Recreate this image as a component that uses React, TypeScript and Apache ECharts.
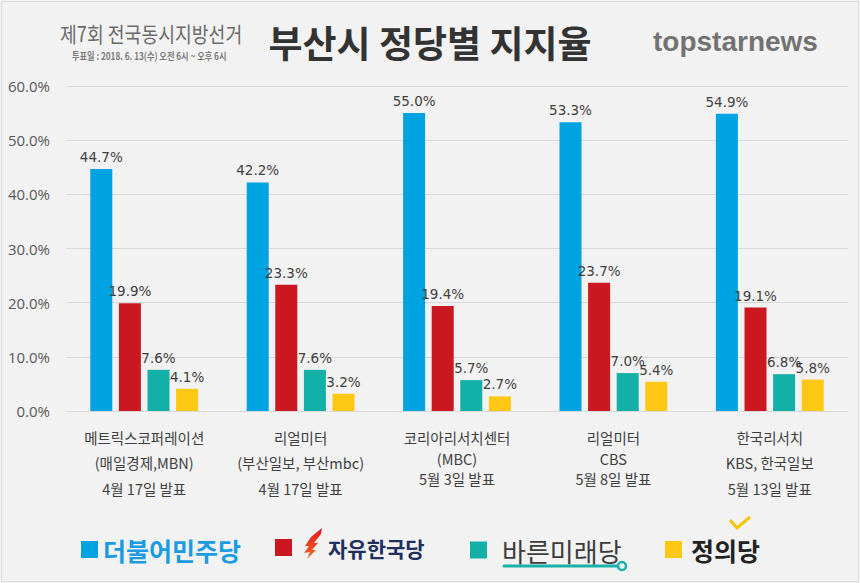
import React, { useEffect, useRef } from "react";
import * as echarts from "echarts";

const categoryLines: string[][] = [
  ["메트릭스코퍼레이션", "(매일경제,MBN)", "4월 17일 발표"],
  ["리얼미터", "(부산일보, 부산mbc)", "4월 17일 발표"],
  ["코리아리서치센터", "(MBC)", "5월 3일 발표"],
  ["리얼미터", "CBS", "5월 8일 발표"],
  ["한국리서치", "KBS, 한국일보", "5월 13일 발표"],
];
const categories = categoryLines.map((l) => l.join("\n"));

const partyNames = ["더불어민주당", "자유한국당", "바른미래당", "정의당"];
const democratic = [44.7, 42.2, 55.0, 53.3, 54.9];
const libertyKorea = [19.9, 23.3, 19.4, 23.7, 19.1];
const bareunmirae = [7.6, 7.6, 5.7, 7.0, 6.8];
const justice = [4.1, 3.2, 2.7, 5.4, 5.8];
const yTicks = [0, 10, 20, 30, 40, 50, 60];

const barColors = ["#00a3e2", "#cb1820", "#13b0a8", "#ffc814"];
const KR = "'Noto Sans CJK KR', 'Noto Sans', sans-serif";

export default function App() {
  const ref = useRef<HTMLDivElement>(null);
  useEffect(() => {
    if (!ref.current) return;
    const chart = echarts.init(ref.current, undefined, { renderer: "svg" });
    const seriesData = [democratic, libertyKorea, bareunmirae, justice];
    const labelCommon = {
      show: true,
      position: "top",
      distance: 5,
      fontSize: 13.5,
      color: "#404040",
      fontFamily: "'DejaVu Sans', sans-serif",
      formatter: (p: any) => `${Number(p.value).toFixed(1)}%`,
    };
    const legendBase = {
      top: 537,
      padding: 0,
      icon: "rect",
      itemWidth: 17,
      itemHeight: 17,
      selectedMode: false,
    };
    const option: any = {
      animation: false,
      backgroundColor: "#f2f2f2",
      grid: { left: 66, right: 12, top: 86, bottom: 172, containLabel: false },
      xAxis: {
        type: "category",
        data: categories,
        axisLine: { show: false },
        axisTick: { show: false },
        axisLabel: {
          margin: 13.25,
          interval: 0,
          formatter: (value: string, index: number) => {
            const l = value.split("\n");
            if (index === 2 || index === 3) {
              return `{a|${l[0]}}\n{b|${l[1]}}\n{c|${l[2]}}`;
            }
            return `{a|${l[0]}}\n{a|${l[1]}}\n{a|${l[2]}}`;
          },
          rich: {
            a: { fontSize: 14.5, lineHeight: 25.5, color: "#404040", fontFamily: KR },
            b: { fontSize: 14.5, lineHeight: 17, color: "#404040", fontFamily: KR },
            c: { fontSize: 14.5, lineHeight: 23, color: "#404040", fontFamily: KR },
          },
        },
      },
      yAxis: {
        type: "value",
        min: yTicks[0],
        max: yTicks[yTicks.length - 1],
        interval: 10,
        axisLine: { show: false },
        axisTick: { show: false },
        splitLine: { lineStyle: { color: "#d9d9d9", width: 1 } },
        axisLabel: {
          margin: 16,
          fontSize: 15,
          color: "#595959",
          fontFamily: "'Open Sans', sans-serif",
          formatter: (v: number) => `${v.toFixed(1)}%`,
        },
      },
      legend: [
        {
          ...legendBase,
          left: 81,
          data: [partyNames[0]],
          formatter: (n: string) => `{t|${n}}`,
          textStyle: {
            rich: {
              t: { fontSize: 25, fontWeight: "bold", color: "#1b9be0", fontFamily: KR, lineHeight: 30 },
            },
          },
        },
        {
          ...legendBase,
          left: 275,
          data: [partyNames[1]],
          formatter: (n: string) => `{g| }{t|${n}}`,
          textStyle: {
            rich: {
              g: { width: 31, lineHeight: 30 },
              t: { fontSize: 21, fontWeight: "bold", color: "#1f2f5e", fontFamily: KR, lineHeight: 30 },
            },
          },
        },
        {
          ...legendBase,
          left: 470,
          data: [partyNames[2]],
          formatter: (n: string) => `{g| }{t|${n}}`,
          textStyle: {
            rich: {
              g: { width: 10, lineHeight: 30 },
              t: { fontSize: 26, color: "#3c3c3c", fontFamily: KR, lineHeight: 30 },
            },
          },
        },
        {
          ...legendBase,
          left: 665,
          data: [partyNames[3]],
          formatter: (n: string) => `{g| }{t|${n}}`,
          textStyle: {
            rich: {
              g: { width: 4, lineHeight: 30 },
              t: { fontSize: 25, fontWeight: "bold", color: "#222222", fontFamily: KR, lineHeight: 30 },
            },
          },
        },
      ],
      series: partyNames.map((name, i) => ({
        name,
        type: "bar",
        data: seriesData[i],
        barWidth: 22,
        barGap: "30%",
        itemStyle: { color: barColors[i] },
        label: labelCommon,
      })),
      graphic: [
        {
          type: "rect",
          silent: true,
          shape: { x: 1.5, y: 1.5, width: 857, height: 580 },
          style: { fill: "none", stroke: "#dddddd", lineWidth: 1 },
        },
        {
          type: "text",
          x: 60,
          y: 33,
          scaleX: 0.87,
          style: {
            text: "제7회 전국동시지방선거",
            fontSize: 21,
            fontFamily: KR,
            fill: "#6a6a6a",
            textAlign: "left",
            textVerticalAlign: "middle",
          },
        },
        {
          type: "text",
          x: 72,
          y: 56,
          scaleX: 0.82,
          style: {
            text: "투표일 : 2018. 6. 13(수) 오전 6시 ~ 오후 6시",
            fontSize: 10,
            fontWeight: "bold",
            fontFamily: KR,
            fill: "#7a7a7a",
            textAlign: "left",
            textVerticalAlign: "middle",
          },
        },
        {
          type: "text",
          x: 430,
          y: 42,
          style: {
            text: "부산시 정당별 지지율",
            fontSize: 37,
            fontWeight: "bold",
            fontFamily: KR,
            fill: "#333333",
            textAlign: "center",
            textVerticalAlign: "middle",
          },
        },
        {
          type: "text",
          x: 653,
          y: 41,
          style: {
            text: "topstarnews",
            fontSize: 28,
            fontWeight: "bold",
            fontFamily: "'Liberation Sans', Arial, sans-serif",
            fill: "#727272",
            textAlign: "left",
            textVerticalAlign: "middle",
          },
        },
        {
          type: "polygon",
          silent: true,
          shape: {
            points: [
              [322, 528], [311, 537], [305, 546], [309, 546], [304, 553], [310, 552],
              [307, 559], [316, 550], [312, 550], [318, 543], [314, 543], [321, 534],
            ],
          },
          style: {
            fill: new echarts.graphic.LinearGradient(0, 0, 0, 1, [
              { offset: 0, color: "#e3141f" },
              { offset: 1, color: "#f26a21" },
            ]),
          },
        },
        {
          type: "line",
          silent: true,
          shape: { x1: 504, y1: 566, x2: 617, y2: 566 },
          style: { stroke: "#17b2aa", lineWidth: 3, lineCap: "round" },
        },
        {
          type: "circle",
          silent: true,
          shape: { cx: 622, cy: 566, r: 4 },
          style: { fill: "#f2f2f2", stroke: "#17b2aa", lineWidth: 2.5 },
        },
        {
          type: "polyline",
          silent: true,
          shape: { points: [[730, 520], [737, 528], [750, 517]] },
          style: { stroke: "#f5c400", lineWidth: 3, fill: "none" },
        },
      ],
    };
    chart.setOption(option);
    return () => chart.dispose();
  }, []);
  return (
    <div
      ref={ref}
      style={{ position: "absolute", left: 0, top: 0, width: 860, height: 583 }}
    />
  );
}
